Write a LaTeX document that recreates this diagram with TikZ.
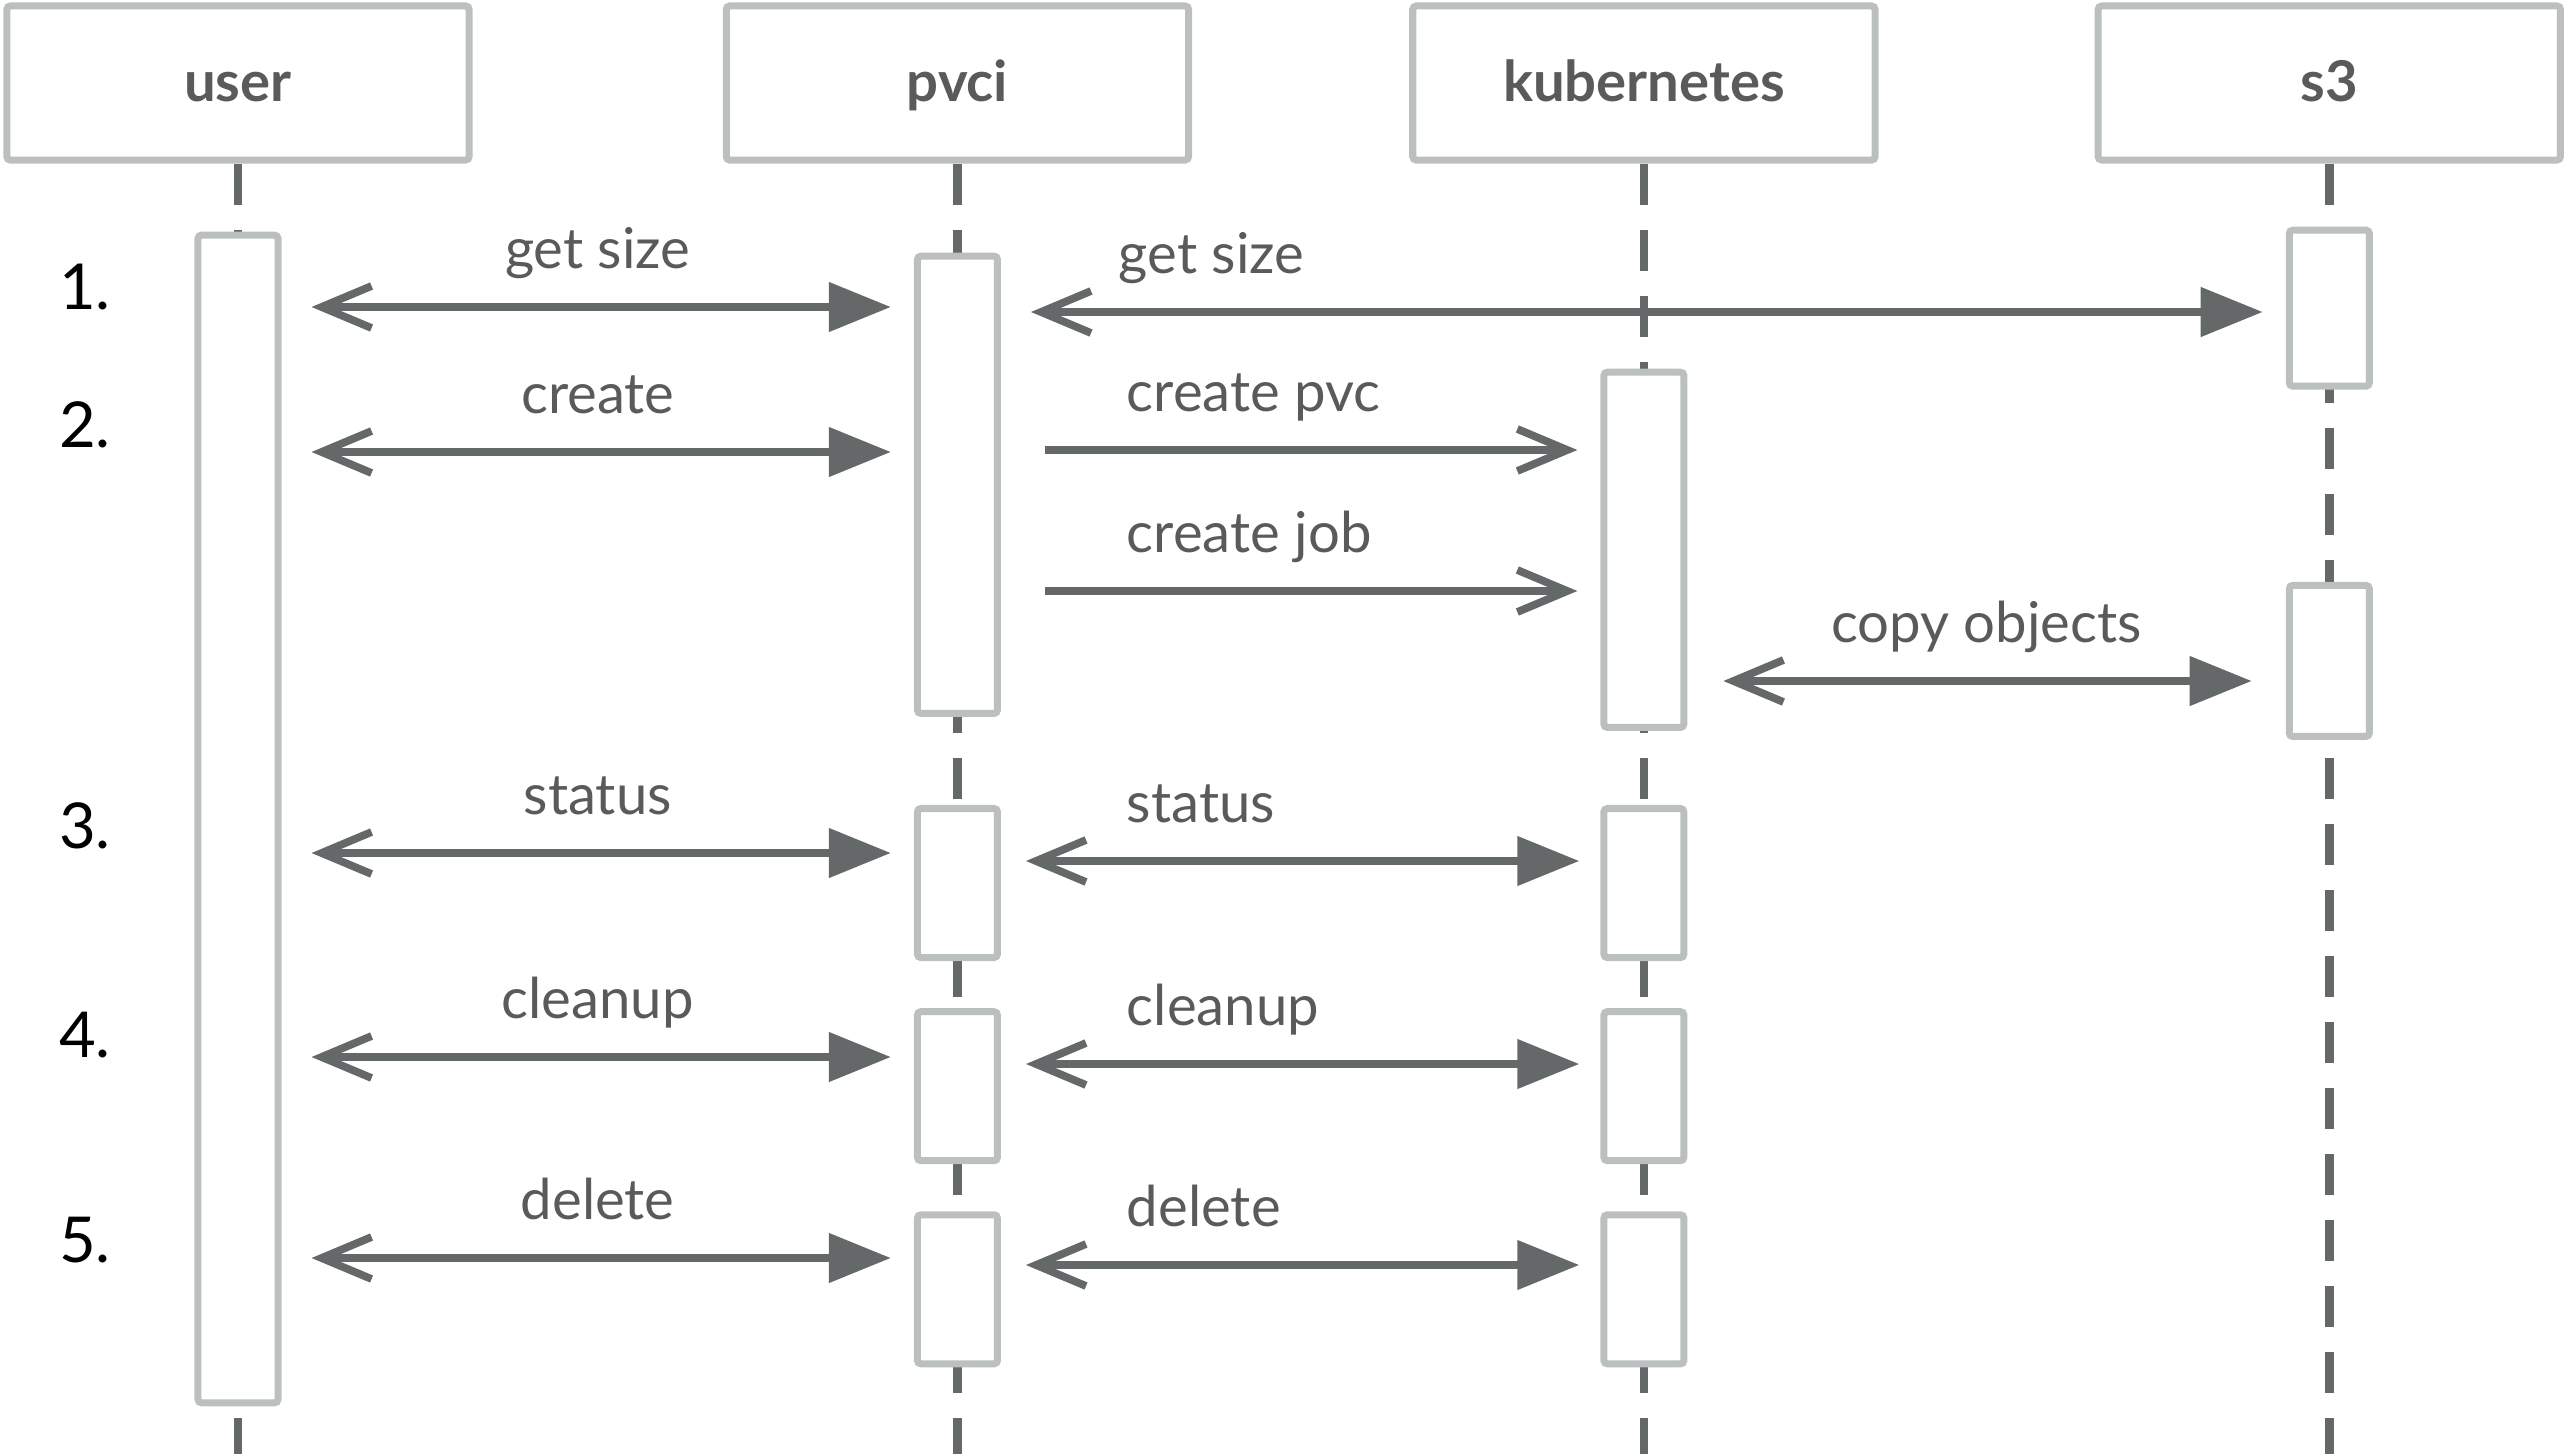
\documentclass[tikz,border=0pt]{standalone}
\usepackage{fontspec}
\setmainfont{Lato}
\usepackage{tikz}
\usetikzlibrary{arrows.meta,positioning}
\definecolor{linegray}{RGB}{101,104,105}
\definecolor{boxgray}{RGB}{187,191,192}
\definecolor{textgray}{RGB}{88,90,91}

\begin{document}
\begin{tikzpicture}[x=0.01cm, y=-0.01cm]
  \tikzset{HeadStyle/.style = {shape          = rectangle,
                               draw           = boxgray,
                               line width     = 2pt,
                               rounded corners = 1pt,
                               fill           = white,
                               text           = textgray,
                               font           = \fontsize{16}{19}\selectfont\bfseries,
                               text height    = 13pt,
                               text depth     = 2.2pt,
                               minimum width  = 4.62cm,
                               minimum height = 1.54cm}}
  \tikzset{ActStyle/.style = {shape          = rectangle,
                              draw           = boxgray,
                              line width     = 2pt,
                              rounded corners = 1pt,
                              fill           = white,
                              inner sep      = 0pt,
                              minimum width  = 0.8cm}}
  \tikzset{LifeStyle/.style = {draw=linegray, line width=2.4pt, dash pattern=on 0.41cm off 0.25cm}}
  \tikzset{MsgStyle/.style = {draw=linegray, line width=2.2pt, shorten <=0.3cm, shorten >=0.23cm},
           both/.style = {MsgStyle, {Straight Barb[length=0.5cm,width=0.42cm]}-{Triangle[length=0.62cm,width=0.48cm]}},
           single/.style = {MsgStyle, -{Straight Barb[length=0.5cm,width=0.42cm]}}}
  \tikzset{MsgLabel/.style = {text=textgray, font=\fontsize{16}{19}\selectfont, inner sep=0pt, anchor=base, yshift=0.38cm},
           rlabel/.style = {MsgLabel, pos=0, anchor=base west, xshift=#1},
           NumStyle/.style = {text=black, font=\fontsize{18}{22}\selectfont, inner sep=0pt, anchor=base}}
  \useasboundingbox (0,0) rectangle (2566,1454);
  %%% HEADERS %%%
  \node[HeadStyle] (user) at (238,83) {user};
  \node[HeadStyle, right=2.5cm of user] (pvci) {pvci};
  \node[HeadStyle, right=2.17cm of pvci] (kube) {kubernetes};
  \node[HeadStyle, right=2.16cm of kube] (s3) {s3};
  %%% LIFELINES %%%
  \coordinate (bottom) at (0,1454);
  \foreach \n in {user,pvci,kube,s3}
    \draw[LifeStyle] (\n.south) -- (\n.south |- bottom);
  %%% ACTIVATIONS %%%
  \node[ActStyle, minimum height=11.67cm, below=0.68cm of user](uact){};
  \node[ActStyle, minimum height=4.57cm, below=0.89cm of pvci](pact1){};
  \node[ActStyle, minimum height=1.56cm, below=0.63cm of s3](sact1){};
  \node[ActStyle, minimum height=3.55cm, below=2.05cm of kube](kact1){};
  \node[ActStyle, minimum height=1.51cm, below=1.92cm of sact1](sact2){};
  \node[ActStyle, minimum height=1.49cm, below=0.88cm of pact1](pact3){};
  \node[ActStyle, minimum height=1.49cm, below=0.74cm of kact1](kact3){};
  \node[ActStyle, minimum height=1.49cm, below=0.47cm of pact3](pact4){};
  \node[ActStyle, minimum height=1.49cm, below=0.47cm of kact3](kact4){};
  \node[ActStyle, minimum height=1.49cm, below=0.47cm of pact4](pact5){};
  \node[ActStyle, minimum height=1.49cm, below=0.47cm of kact4](kact5){};
  %%% ROWS %%%
  \coordinate (gs1) at (0,307);  \coordinate (gs2) at (0,312);
  \coordinate (cr1) at (0,452);  \coordinate (cpvc) at (0,450);
  \coordinate (cjob) at (0,591); \coordinate (copy) at (0,681);
  \coordinate (st1) at (0,853);  \coordinate (st2) at (0,861);
  \coordinate (cl1) at (0,1057); \coordinate (cl2) at (0,1064);
  \coordinate (de1) at (0,1258); \coordinate (de2) at (0,1265);
  %%% NUMBERS %%%
  \node[NumStyle] (n1) at (85,309) {1.};
  \node[NumStyle] (n2) at (85,447) {2.};
  \node[NumStyle] (n3) at (85,848) {3.};
  \node[NumStyle] (n4) at (85,1057) {4.};
  \node[NumStyle] (n5) at (85,1262) {5.};
  %%% MESSAGES %%%
  \draw[both] (uact.east |- gs1) to node[MsgLabel]{get size} (pact1.west |- gs1);
  \draw[both] (pact1.east |- gs2) to node[rlabel=1.14cm]{get size} (sact1.west |- gs2);
  \draw[both] (uact.east |- cr1) to node[MsgLabel]{create} (pact1.west |- cr1);
  \draw[single, shorten <=0.44cm] (pact1.east |- cpvc) to node[rlabel=1.22cm]{create pvc} (kact1.west |- cpvc);
  \draw[single, shorten <=0.44cm] (pact1.east |- cjob) to node[rlabel=1.22cm]{create job} (kact1.west |- cjob);
  \draw[both, shorten <=0.36cm, shorten >=0.34cm] (kact1.east |- copy) to node[MsgLabel]{copy objects} (sact2.west |- copy);
  \draw[both] (uact.east |- st1) to node[MsgLabel]{status} (pact3.west |- st1);
  \draw[both, shorten <=0.25cm, shorten >=0.21cm] (pact3.east |- st2) to node[rlabel=1.22cm]{status} (kact3.west |- st2);
  \draw[both] (uact.east |- cl1) to node[MsgLabel]{cleanup} (pact4.west |- cl1);
  \draw[both, shorten <=0.25cm, shorten >=0.21cm] (pact4.east |- cl2) to node[rlabel=1.22cm]{cleanup} (kact4.west |- cl2);
  \draw[both] (uact.east |- de1) to node[MsgLabel]{delete} (pact5.west |- de1);
  \draw[both, shorten <=0.25cm, shorten >=0.21cm] (pact5.east |- de2) to node[rlabel=1.22cm]{delete} (kact5.west |- de2);
\end{tikzpicture}
\end{document}
